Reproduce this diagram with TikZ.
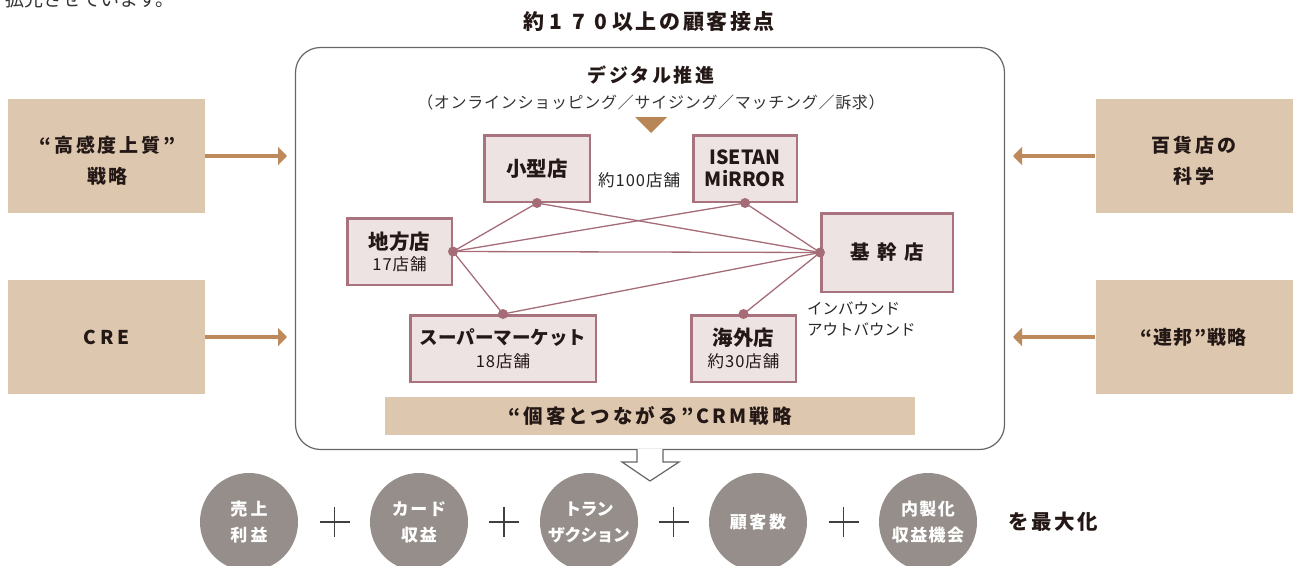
\documentclass[tikz,border=0pt]{standalone}
\usepackage{fontspec}
\setmainfont{Noto Sans CJK JP}
\usetikzlibrary{arrows.meta}
\definecolor{tanfill}{HTML}{DDC7AF}
\definecolor{arrowbrown}{HTML}{BE8A5B}
\definecolor{storefill}{HTML}{EEE3E3}
\definecolor{storeline}{HTML}{A8737E}
\definecolor{linkcol}{HTML}{A56C78}
\definecolor{circfill}{HTML}{958E8A}
\definecolor{txt}{HTML}{231815}
\definecolor{frame}{HTML}{666666}
\definecolor{tricol}{HTML}{B98757}
\newcommand\jfs[2]{\fontsize{#1}{#2}\selectfont}
\newcommand\lsp[1]{\addfontfeature{LetterSpace=#1}}
\newcommand\fw[1]{\makebox[1.08em]{#1}}
\newcommand\storesmallfont{\jfs{16.5}{18}\lsp{6}}
\begin{document}
\begin{tikzpicture}[x=1pt,y=-1pt,
  tanbox/.style={fill=tanfill,minimum width=197,minimum height=114,inner sep=0},
  tantext/.style={text=txt,font=\bfseries\jfs{19}{31}\lsp{15},align=center},
  inarrow/.style={draw=arrowbrown,line width=4.5pt,-{Triangle[length=9pt,width=18pt]}},
  store/.style={draw=storeline,line width=2.5pt,fill=storefill,text=txt,align=center,inner sep=0},
  link/.style={draw=linkcol,line width=1.3pt},
  dot/.style={fill=linkcol},
  circ/.style={circle,fill=circfill,minimum size=98,inner sep=0,text=white,font=\bfseries\jfs{17}{26}\lsp{#1},align=center},
  circ/.default=8,
  plus/.style={draw=black!75,line width=1.1pt},
  small/.style={text=black!85,font=\jfs{15.5}{21},align=left}
]
\clip (0,0) rectangle (1293,565);
\useasboundingbox (0,0) rectangle (1293,565);

% cut-off text at top
\node[anchor=base west,text=black!80,font=\jfs{19}{22},inner sep=0] (cut) at (5,6.5) {拡充させています。};

% title
\node[text=txt,font=\bfseries\jfs{21}{24}\lsp{12}] (title) at (649,22) {約\fw{1}\fw{7}\fw{0}以上の顧客接点};

% container
\node[draw=frame,line width=1.2pt,rounded corners=25,minimum width=709,minimum height=402,inner sep=0] (container) at (650,248.5) {};
\draw[draw=frame,line width=1.2pt,fill=white] (637,449) -- (637,462) -- (622,462) -- (650,481) -- (679,462) -- (663,462) -- (663,449);

% side boxes
\node[tanbox] (hk) at (106.5,156) {};
\node[tantext] (hkt) at (107.5,161) {“高感度上質”\\戦略};
\node[tanbox] (cre) at (106.5,336.5) {};
\node[tantext,font=\bfseries\jfs{19}{31}] (cret) at (106.5,337) {C\hspace{4pt}R\hspace{4pt}E};
\node[tanbox] (sci) at (1194,156) {};
\node[tantext,font=\bfseries\jfs{19}{31}\lsp{17}] (scit) at (1194,161) {百貨店の\\科学};
\node[tanbox] (ren) at (1194,336.5) {};
\node[tantext,font=\bfseries\jfs{19}{31}\lsp{6}] (rent) at (1193.5,337) {“連邦”戦略};

\coordinate (hkend) at (287,156);
\coordinate (creend) at (287,337);
\coordinate (sciend) at (1013,156);
\coordinate (renend) at (1013,337);
\draw[inarrow] (hk.east) -- (hkend);
\draw[inarrow] (cre.east|-creend) -- (creend);
\draw[inarrow] (sci.west) -- (sciend);
\draw[inarrow] (ren.west|-renend) -- (renend);

% digital
\node[text=txt,font=\bfseries\jfs{19}{22}\lsp{14}] (dig) at (651,75) {デジタル推進};
\node[text=black!80,font=\jfs{16}{20}\lsp{4.5}] (digsub) at (651,102) {（オンラインショッピング／サイジング／マッチング／訴求）};
\fill[tricol] (635,117) -- (667,117) -- (651,133) -- cycle;

% stores
\node[store,minimum width=105.5,minimum height=66.5,font=\bfseries\jfs{20.5}{22}] (kogata) at (537,168.5) {小型店};
\node[store,minimum width=104.5,minimum height=66.5] (chiho) at (399.5,251.5) {{\bfseries\jfs{20.5}{22}地方店}\\[4pt]{\storesmallfont 17店舗}};
\node[store,minimum width=185.5,minimum height=66.5] (super) at (503,348.5) {{\bfseries\jfs{18.5}{22}スーパーマーケット}\\[6pt]{\storesmallfont 18店舗}};
\node[store,minimum width=103.5,minimum height=66.5,font=\bfseries\jfs{19.5}{22}] (isetan) at (745,168.5) {ISETAN\\MiRROR};
\node[store,minimum width=131.5,minimum height=78.5,font=\bfseries\jfs{19.5}{22}] (kikan) at (887,252.5) {基\hspace{7.5pt}幹\hspace{7.5pt}店};
\node[store,minimum width=104.5,minimum height=66.5] (kaigai) at (743.5,348.5) {{\bfseries\jfs{20.5}{22}海外店}\\[5pt]{\storesmallfont 約30店舗}};

\node[small,font=\jfs{16.5}{21}\lsp{6},anchor=west,inner sep=0] (k100) at (598,180) {約100店舗};
\node[small,anchor=north west,inner sep=0] (inout) at (807,302) {インバウンド\\アウトバウンド};

% links
\draw[link] (chiho.east) -- (kogata.south);
\draw[link] (chiho.east) -- (isetan.south);
\draw[link] (chiho.east) -- (kikan.west);
\draw[link] (chiho.east) -- (super.north);
\draw[link] (kogata.south) -- (kikan.west);
\draw[link] (super.north) -- (kikan.west);
\draw[link] (isetan.south) -- (kikan.west);
\draw[link] (kaigai.north) -- (kikan.west);
\foreach \p in {chiho.east,kogata.south,isetan.south,super.north,kikan.west,kaigai.north}
  \fill[dot] (\p) circle (5);

% CRM bar
\node[fill=tanfill,minimum width=530,minimum height=38,inner sep=0,text=txt,font=\bfseries\jfs{19.5}{22}\lsp{16}] (crm) at (650,416) {“個客とつながる”CRM戦略};

% circles
\node[circ=20] (c1) at (249,522) {売上\\利益};
\node[circ=10] (c2) at (419,522) {カード\\収益};
\node[circ=-5] (c3) at (589,522) {トラン\\ザクション};
\node[circ=15] (c4) at (758,522) {顧客数};
\node[circ=8] (c5) at (928,522) {内製化\\収益機会};
\foreach \x in {334.5,504,673.5,843.5}
  \draw[plus] (\x-15,522) -- (\x+15,522) (\x,507) -- (\x,537);
\node[text=txt,font=\bfseries\jfs{20.5}{24}\lsp{12}] (maxi) at (1053,522) {を最大化};
\end{tikzpicture}
\end{document}
